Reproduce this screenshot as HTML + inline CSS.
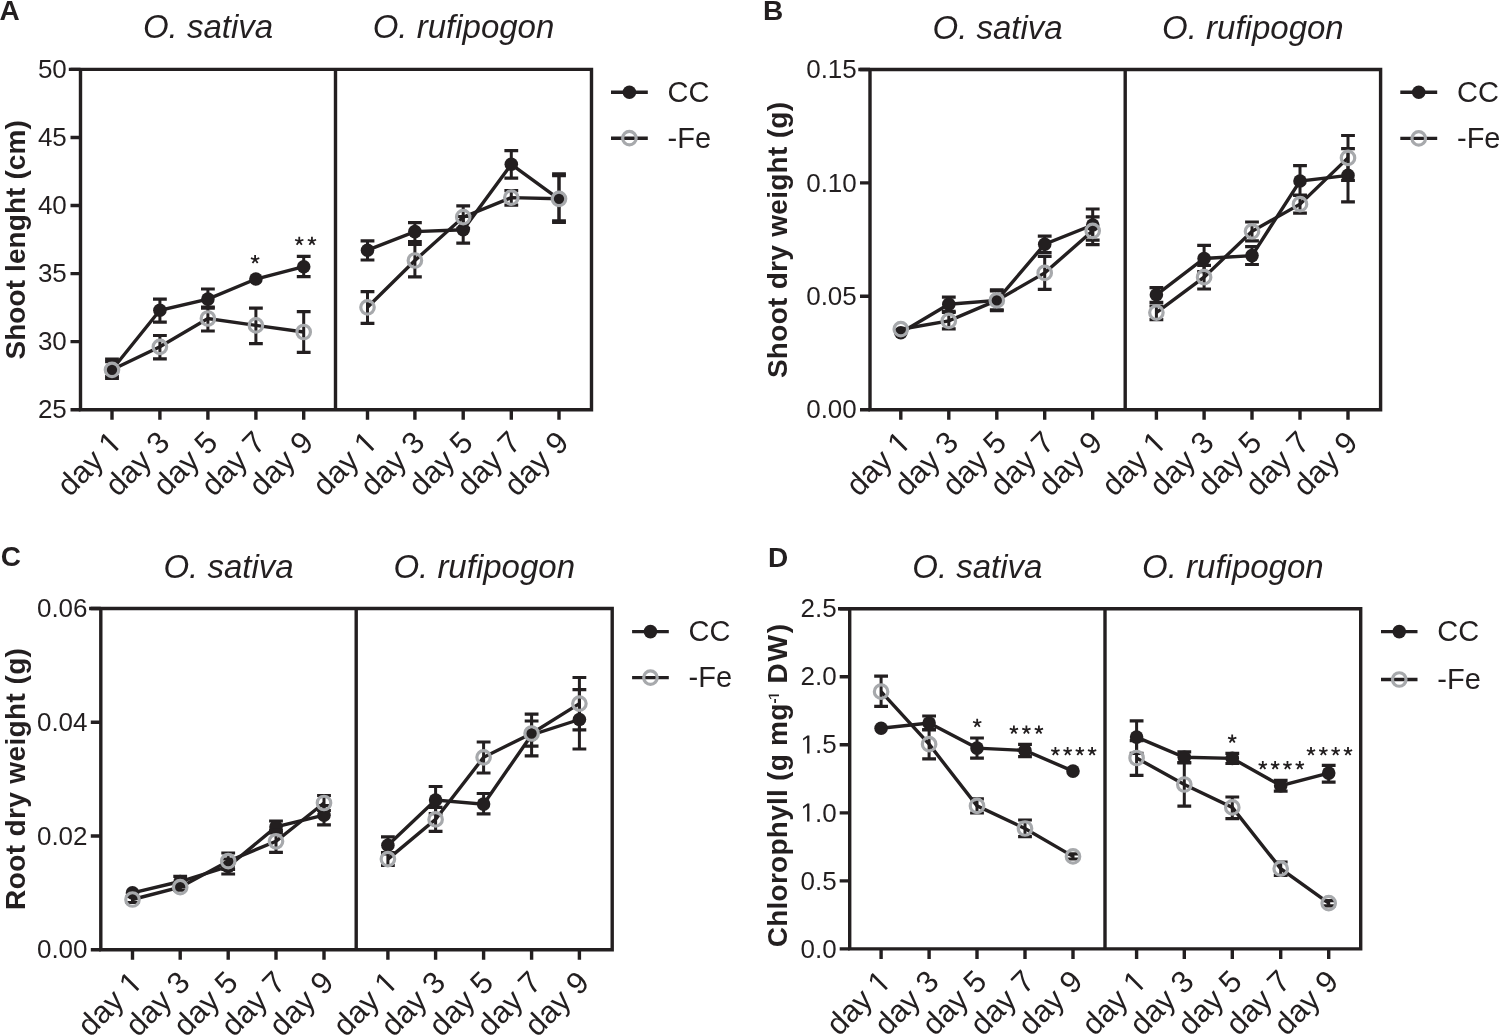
<!DOCTYPE html>
<html><head><meta charset="utf-8"><title>Figure</title>
<style>
html,body{margin:0;padding:0;background:#fff;}
body{width:1499px;height:1035px;position:relative;overflow:hidden;}
svg{will-change:transform;}
svg text{font-family:"Liberation Sans", sans-serif;fill:#231f20;}
</style></head><body>
<svg width="1499" height="1035" viewBox="0 0 1499 1035" style="position:absolute;left:0;top:0">
<rect width="1499" height="1035" fill="#fff"/>
<g id="pA"><path d="M70.5 69.4H591.5V409.7H80.5V69.4M335.5 69.4V409.7" fill="none" stroke="#231f20" stroke-width="3.4" stroke-linecap="square" stroke-linejoin="miter"/>
<path d="M70.5 69.4H80.5M70.5 137.5H80.5M70.5 205.5H80.5M70.5 273.6H80.5M70.5 341.6H80.5M70.5 409.7H80.5" stroke="#231f20" stroke-width="3.4"/>
<path d="M112 409.7V419.7M159.9 409.7V419.7M207.9 409.7V419.7M255.9 409.7V419.7M303.7 409.7V419.7M367.5 409.7V419.7M414.9 409.7V419.7M463.2 409.7V419.7M511.3 409.7V419.7M559 409.7V419.7" stroke="#231f20" stroke-width="3.4"/>
<text x="66.8" y="78" text-anchor="end" font-size="26">50</text>
<text x="66.8" y="146.1" text-anchor="end" font-size="26">45</text>
<text x="66.8" y="214.1" text-anchor="end" font-size="26">40</text>
<text x="66.8" y="282.2" text-anchor="end" font-size="26">35</text>
<text x="66.8" y="350.2" text-anchor="end" font-size="26">30</text>
<text x="66.8" y="418.3" text-anchor="end" font-size="26">25</text>
<g transform="rotate(-45 123.5 444.2)"><text x="97.65" y="444.2" text-anchor="end" font-size="31">day</text><path d="M515 0H696V1409H530L197 1180V1010L515 1237Z" fill="#231f20" transform="translate(106.26 444.20) scale(0.01514 -0.01514)"/></g>
<text x="171.4" y="444.2" text-anchor="end" font-size="31" transform="rotate(-45 171.4 444.2)">day 3</text>
<text x="219.4" y="444.2" text-anchor="end" font-size="31" transform="rotate(-45 219.4 444.2)">day 5</text>
<text x="267.4" y="444.2" text-anchor="end" font-size="31" transform="rotate(-45 267.4 444.2)">day 7</text>
<text x="315.2" y="444.2" text-anchor="end" font-size="31" transform="rotate(-45 315.2 444.2)">day 9</text>
<g transform="rotate(-45 379 444.2)"><text x="353.15" y="444.2" text-anchor="end" font-size="31">day</text><path d="M515 0H696V1409H530L197 1180V1010L515 1237Z" fill="#231f20" transform="translate(361.76 444.20) scale(0.01514 -0.01514)"/></g>
<text x="426.4" y="444.2" text-anchor="end" font-size="31" transform="rotate(-45 426.4 444.2)">day 3</text>
<text x="474.7" y="444.2" text-anchor="end" font-size="31" transform="rotate(-45 474.7 444.2)">day 5</text>
<text x="522.8" y="444.2" text-anchor="end" font-size="31" transform="rotate(-45 522.8 444.2)">day 7</text>
<text x="570.5" y="444.2" text-anchor="end" font-size="31" transform="rotate(-45 570.5 444.2)">day 9</text>
<text x="208" y="38.4" text-anchor="middle" font-size="33" font-style="italic">O. sativa</text>
<text x="463.5" y="38.4" text-anchor="middle" font-size="33" font-style="italic">O. rufipogon</text>
<text x="-0.6" y="20.2" font-size="28" font-weight="bold">A</text>
<text x="24.7" y="239.9" text-anchor="middle" font-size="28" font-weight="bold" textLength="239.4" lengthAdjust="spacing" transform="rotate(-90 24.7 239.9)">Shoot lenght (cm)</text>
<path d="M611 92.2H647.8M611 138.2H647.8" stroke="#231f20" stroke-width="3.4"/>
<circle cx="629.4" cy="92.2" r="6.8" fill="#231f20"/>
<circle cx="629.4" cy="138.2" r="6.75" fill="none" stroke="#a7a9ac" stroke-width="3.2"/>
<text x="667.6" y="101.8" font-size="29">CC</text>
<text x="667.6" y="147.8" font-size="29">-Fe</text>
<polyline points="112,369.8 159.9,310.3 207.9,299.1 255.9,279 303.7,266.7" fill="none" stroke="#231f20" stroke-width="3.4" stroke-linejoin="miter"/>
<polyline points="367.5,250.2 414.9,231.6 463.2,229.8 511.3,164.3 559,199.1" fill="none" stroke="#231f20" stroke-width="3.4" stroke-linejoin="miter"/>
<path d="M112 359V378.4M159.9 299.1V322.2M207.9 289V308.2M303.7 256.4V276.7M367.5 240.8V260M414.9 222.6V241.5M463.2 216.5V243.1M511.3 150.7V178.2M559 175.7V220.8" stroke="#231f20" stroke-width="3.0"/>
<path d="M105.1 359H118.9M105.1 378.4H118.9M153 299.1H166.8M153 322.2H166.8M201 289H214.8M201 308.2H214.8M296.8 256.4H310.6M296.8 276.7H310.6M360.6 240.8H374.4M360.6 260H374.4M408 222.6H421.8M408 241.5H421.8M456.3 216.5H470.1M456.3 243.1H470.1M504.4 150.7H518.2M504.4 178.2H518.2M552.1 175.7H565.9M552.1 220.8H565.9" stroke="#231f20" stroke-width="3.2"/>
<circle cx="112" cy="369.8" r="6.8" fill="#231f20"/>
<circle cx="159.9" cy="310.3" r="6.8" fill="#231f20"/>
<circle cx="207.9" cy="299.1" r="6.8" fill="#231f20"/>
<circle cx="255.9" cy="279" r="6.8" fill="#231f20"/>
<circle cx="303.7" cy="266.7" r="6.8" fill="#231f20"/>
<circle cx="367.5" cy="250.2" r="6.8" fill="#231f20"/>
<circle cx="414.9" cy="231.6" r="6.8" fill="#231f20"/>
<circle cx="463.2" cy="229.8" r="6.8" fill="#231f20"/>
<circle cx="511.3" cy="164.3" r="6.8" fill="#231f20"/>
<circle cx="559" cy="199.1" r="6.8" fill="#231f20"/>
<polyline points="112,369.8 159.9,346.8 207.9,318.5 255.9,325.4 303.7,332" fill="none" stroke="#231f20" stroke-width="3.4" stroke-linejoin="miter"/>
<polyline points="367.5,307.3 414.9,260.5 463.2,217.1 511.3,197.6 559,198.8" fill="none" stroke="#231f20" stroke-width="3.4" stroke-linejoin="miter"/>
<path d="M112 361.6V376.6M159.9 335.5V358.9M207.9 307V331M255.9 308.1V343.6M303.7 311.6V352.4M367.5 291.6V323.4M414.9 244.5V276.9M463.2 205.8V228.4M511.3 190.6V205.1M559 173.8V222.3" stroke="#231f20" stroke-width="3.0"/>
<path d="M105.1 361.6H118.9M105.1 376.6H118.9M153 335.5H166.8M153 358.9H166.8M201 307H214.8M201 331H214.8M249 308.1H262.8M249 343.6H262.8M296.8 311.6H310.6M296.8 352.4H310.6M360.6 291.6H374.4M360.6 323.4H374.4M408 244.5H421.8M408 276.9H421.8M456.3 205.8H470.1M456.3 228.4H470.1M504.4 190.6H518.2M504.4 205.1H518.2M552.1 173.8H565.9M552.1 222.3H565.9" stroke="#231f20" stroke-width="3.2"/>
<circle cx="112" cy="369.8" r="6.75" fill="none" stroke="#a7a9ac" stroke-width="3.2"/>
<circle cx="159.9" cy="346.8" r="6.75" fill="none" stroke="#a7a9ac" stroke-width="3.2"/>
<circle cx="207.9" cy="318.5" r="6.75" fill="none" stroke="#a7a9ac" stroke-width="3.2"/>
<circle cx="255.9" cy="325.4" r="6.75" fill="none" stroke="#a7a9ac" stroke-width="3.2"/>
<circle cx="303.7" cy="332" r="6.75" fill="none" stroke="#a7a9ac" stroke-width="3.2"/>
<circle cx="367.5" cy="307.3" r="6.75" fill="none" stroke="#a7a9ac" stroke-width="3.2"/>
<circle cx="414.9" cy="260.5" r="6.75" fill="none" stroke="#a7a9ac" stroke-width="3.2"/>
<circle cx="463.2" cy="217.1" r="6.75" fill="none" stroke="#a7a9ac" stroke-width="3.2"/>
<circle cx="511.3" cy="197.6" r="6.75" fill="none" stroke="#a7a9ac" stroke-width="3.2"/>
<circle cx="559" cy="198.8" r="6.75" fill="none" stroke="#a7a9ac" stroke-width="3.2"/></g>
<g id="pB"><path d="M860 69.5H1380.6V409.7H870V69.5M1125.2 69.5V409.7" fill="none" stroke="#231f20" stroke-width="3.4" stroke-linecap="square" stroke-linejoin="miter"/>
<path d="M860 69.5H870M860 182.9H870M860 296.3H870M860 409.7H870" stroke="#231f20" stroke-width="3.4"/>
<path d="M900.8 409.7V419.7M948.8 409.7V419.7M996.8 409.7V419.7M1044.7 409.7V419.7M1092.7 409.7V419.7M1156.4 409.7V419.7M1204.1 409.7V419.7M1252 409.7V419.7M1300 409.7V419.7M1348 409.7V419.7" stroke="#231f20" stroke-width="3.4"/>
<text x="856.8" y="78.1" text-anchor="end" font-size="26">0.15</text>
<text x="856.8" y="191.5" text-anchor="end" font-size="26">0.10</text>
<text x="856.8" y="304.9" text-anchor="end" font-size="26">0.05</text>
<text x="856.8" y="418.3" text-anchor="end" font-size="26">0.00</text>
<g transform="rotate(-45 912.3 444.2)"><text x="886.45" y="444.2" text-anchor="end" font-size="31">day</text><path d="M515 0H696V1409H530L197 1180V1010L515 1237Z" fill="#231f20" transform="translate(895.06 444.20) scale(0.01514 -0.01514)"/></g>
<text x="960.3" y="444.2" text-anchor="end" font-size="31" transform="rotate(-45 960.3 444.2)">day 3</text>
<text x="1008.3" y="444.2" text-anchor="end" font-size="31" transform="rotate(-45 1008.3 444.2)">day 5</text>
<text x="1056.2" y="444.2" text-anchor="end" font-size="31" transform="rotate(-45 1056.2 444.2)">day 7</text>
<text x="1104.2" y="444.2" text-anchor="end" font-size="31" transform="rotate(-45 1104.2 444.2)">day 9</text>
<g transform="rotate(-45 1167.9 444.2)"><text x="1142.05" y="444.2" text-anchor="end" font-size="31">day</text><path d="M515 0H696V1409H530L197 1180V1010L515 1237Z" fill="#231f20" transform="translate(1150.66 444.20) scale(0.01514 -0.01514)"/></g>
<text x="1215.6" y="444.2" text-anchor="end" font-size="31" transform="rotate(-45 1215.6 444.2)">day 3</text>
<text x="1263.5" y="444.2" text-anchor="end" font-size="31" transform="rotate(-45 1263.5 444.2)">day 5</text>
<text x="1311.5" y="444.2" text-anchor="end" font-size="31" transform="rotate(-45 1311.5 444.2)">day 7</text>
<text x="1359.5" y="444.2" text-anchor="end" font-size="31" transform="rotate(-45 1359.5 444.2)">day 9</text>
<text x="997.6" y="38.5" text-anchor="middle" font-size="33" font-style="italic">O. sativa</text>
<text x="1252.9" y="38.5" text-anchor="middle" font-size="33" font-style="italic">O. rufipogon</text>
<text x="763" y="20.3" font-size="28" font-weight="bold">B</text>
<text x="787" y="240.05" text-anchor="middle" font-size="28" font-weight="bold" textLength="276.1" lengthAdjust="spacing" transform="rotate(-90 787 240.05)">Shoot dry weight (g)</text>
<path d="M1400.3 92.3H1437.2M1400.3 138.4H1437.2" stroke="#231f20" stroke-width="3.4"/>
<circle cx="1418.75" cy="92.3" r="6.8" fill="#231f20"/>
<circle cx="1418.75" cy="138.4" r="6.75" fill="none" stroke="#a7a9ac" stroke-width="3.2"/>
<text x="1457" y="101.9" font-size="29">CC</text>
<text x="1457" y="148" font-size="29">-Fe</text>
<polyline points="900.8,332.7 948.8,304.2 996.8,300.4 1044.7,244.2 1092.7,225" fill="none" stroke="#231f20" stroke-width="3.4" stroke-linejoin="miter"/>
<polyline points="1156.4,294.8 1204.1,258.5 1252,255.6 1300,181 1348,175.4" fill="none" stroke="#231f20" stroke-width="3.4" stroke-linejoin="miter"/>
<path d="M948.8 297.1V311.3M996.8 289.8V310.7M1044.7 236.1V252.6M1092.7 209V240.1M1156.4 287.7V302.4M1204.1 245.4V271.6M1252 246.7V264.5M1300 165.6V195.5M1348 148.6V201.9" stroke="#231f20" stroke-width="3.0"/>
<path d="M941.9 297.1H955.7M941.9 311.3H955.7M989.9 289.8H1003.7M989.9 310.7H1003.7M1037.8 236.1H1051.6M1037.8 252.6H1051.6M1085.8 209H1099.6M1085.8 240.1H1099.6M1149.5 287.7H1163.3M1149.5 302.4H1163.3M1197.2 245.4H1211M1197.2 271.6H1211M1245.1 246.7H1258.9M1245.1 264.5H1258.9M1293.1 165.6H1306.9M1293.1 195.5H1306.9M1341.1 148.6H1354.9M1341.1 201.9H1354.9" stroke="#231f20" stroke-width="3.2"/>
<circle cx="900.8" cy="332.7" r="6.8" fill="#231f20"/>
<circle cx="948.8" cy="304.2" r="6.8" fill="#231f20"/>
<circle cx="996.8" cy="300.4" r="6.8" fill="#231f20"/>
<circle cx="1044.7" cy="244.2" r="6.8" fill="#231f20"/>
<circle cx="1092.7" cy="225" r="6.8" fill="#231f20"/>
<circle cx="1156.4" cy="294.8" r="6.8" fill="#231f20"/>
<circle cx="1204.1" cy="258.5" r="6.8" fill="#231f20"/>
<circle cx="1252" cy="255.6" r="6.8" fill="#231f20"/>
<circle cx="1300" cy="181" r="6.8" fill="#231f20"/>
<circle cx="1348" cy="175.4" r="6.8" fill="#231f20"/>
<polyline points="900.8,329.2 948.8,320.9 996.8,300.4 1044.7,272.9 1092.7,230.8" fill="none" stroke="#231f20" stroke-width="3.4" stroke-linejoin="miter"/>
<polyline points="1156.4,312.6 1204.1,277.2 1252,231.3 1300,204.2 1348,157.9" fill="none" stroke="#231f20" stroke-width="3.4" stroke-linejoin="miter"/>
<path d="M948.8 312.5V328.8M996.8 291V309.8M1044.7 256.4V289.3M1092.7 216.8V244.7M1156.4 306V319.6M1204.1 265.4V289M1252 222V240.8M1300 195V213.2M1348 135.5V180.3" stroke="#231f20" stroke-width="3.0"/>
<path d="M941.9 312.5H955.7M941.9 328.8H955.7M989.9 291H1003.7M989.9 309.8H1003.7M1037.8 256.4H1051.6M1037.8 289.3H1051.6M1085.8 216.8H1099.6M1085.8 244.7H1099.6M1149.5 306H1163.3M1149.5 319.6H1163.3M1197.2 265.4H1211M1197.2 289H1211M1245.1 222H1258.9M1245.1 240.8H1258.9M1293.1 195H1306.9M1293.1 213.2H1306.9M1341.1 135.5H1354.9M1341.1 180.3H1354.9" stroke="#231f20" stroke-width="3.2"/>
<circle cx="900.8" cy="329.2" r="6.75" fill="none" stroke="#a7a9ac" stroke-width="3.2"/>
<circle cx="948.8" cy="320.9" r="6.75" fill="none" stroke="#a7a9ac" stroke-width="3.2"/>
<circle cx="996.8" cy="300.4" r="6.75" fill="none" stroke="#a7a9ac" stroke-width="3.2"/>
<circle cx="1044.7" cy="272.9" r="6.75" fill="none" stroke="#a7a9ac" stroke-width="3.2"/>
<circle cx="1092.7" cy="230.8" r="6.75" fill="none" stroke="#a7a9ac" stroke-width="3.2"/>
<circle cx="1156.4" cy="312.6" r="6.75" fill="none" stroke="#a7a9ac" stroke-width="3.2"/>
<circle cx="1204.1" cy="277.2" r="6.75" fill="none" stroke="#a7a9ac" stroke-width="3.2"/>
<circle cx="1252" cy="231.3" r="6.75" fill="none" stroke="#a7a9ac" stroke-width="3.2"/>
<circle cx="1300" cy="204.2" r="6.75" fill="none" stroke="#a7a9ac" stroke-width="3.2"/>
<circle cx="1348" cy="157.9" r="6.75" fill="none" stroke="#a7a9ac" stroke-width="3.2"/></g>
<g id="pC"><path d="M90.8 608.5H612.2V949.8H100.8V608.5M356.2 608.5V949.8" fill="none" stroke="#231f20" stroke-width="3.4" stroke-linecap="square" stroke-linejoin="miter"/>
<path d="M90.8 608.5H100.8M90.8 722.3H100.8M90.8 836H100.8M90.8 949.8H100.8" stroke="#231f20" stroke-width="3.4"/>
<path d="M132.5 949.8V959.8M180.2 949.8V959.8M228.2 949.8V959.8M276 949.8V959.8M324 949.8V959.8M387.9 949.8V959.8M435.6 949.8V959.8M483.6 949.8V959.8M531.6 949.8V959.8M579.4 949.8V959.8" stroke="#231f20" stroke-width="3.4"/>
<text x="87.55" y="617.1" text-anchor="end" font-size="26">0.06</text>
<text x="87.55" y="730.9" text-anchor="end" font-size="26">0.04</text>
<text x="87.55" y="844.6" text-anchor="end" font-size="26">0.02</text>
<text x="87.55" y="958.4" text-anchor="end" font-size="26">0.00</text>
<g transform="rotate(-45 144 984.3)"><text x="118.15" y="984.3" text-anchor="end" font-size="31">day</text><path d="M515 0H696V1409H530L197 1180V1010L515 1237Z" fill="#231f20" transform="translate(126.76 984.30) scale(0.01514 -0.01514)"/></g>
<text x="191.7" y="984.3" text-anchor="end" font-size="31" transform="rotate(-45 191.7 984.3)">day 3</text>
<text x="239.7" y="984.3" text-anchor="end" font-size="31" transform="rotate(-45 239.7 984.3)">day 5</text>
<text x="287.5" y="984.3" text-anchor="end" font-size="31" transform="rotate(-45 287.5 984.3)">day 7</text>
<text x="335.5" y="984.3" text-anchor="end" font-size="31" transform="rotate(-45 335.5 984.3)">day 9</text>
<g transform="rotate(-45 399.4 984.3)"><text x="373.55" y="984.3" text-anchor="end" font-size="31">day</text><path d="M515 0H696V1409H530L197 1180V1010L515 1237Z" fill="#231f20" transform="translate(382.16 984.30) scale(0.01514 -0.01514)"/></g>
<text x="447.1" y="984.3" text-anchor="end" font-size="31" transform="rotate(-45 447.1 984.3)">day 3</text>
<text x="495.1" y="984.3" text-anchor="end" font-size="31" transform="rotate(-45 495.1 984.3)">day 5</text>
<text x="543.1" y="984.3" text-anchor="end" font-size="31" transform="rotate(-45 543.1 984.3)">day 7</text>
<text x="590.9" y="984.3" text-anchor="end" font-size="31" transform="rotate(-45 590.9 984.3)">day 9</text>
<text x="228.5" y="577.5" text-anchor="middle" font-size="33" font-style="italic">O. sativa</text>
<text x="484.2" y="577.5" text-anchor="middle" font-size="33" font-style="italic">O. rufipogon</text>
<text x="0.7" y="565.8" font-size="28" font-weight="bold">C</text>
<text x="24.8" y="779" text-anchor="middle" font-size="28" font-weight="bold" textLength="261.9" lengthAdjust="spacing" transform="rotate(-90 24.8 779)">Root dry weight (g)</text>
<path d="M632.1 631.6H668.8M632.1 677.6H668.8" stroke="#231f20" stroke-width="3.4"/>
<circle cx="650.45" cy="631.6" r="6.8" fill="#231f20"/>
<circle cx="650.45" cy="677.6" r="6.75" fill="none" stroke="#a7a9ac" stroke-width="3.2"/>
<text x="688.6" y="641.2" font-size="29">CC</text>
<text x="688.6" y="687.2" font-size="29">-Fe</text>
<polyline points="132.5,892.9 180.2,881.5 228.2,866.5 276,826.9 324,815.2" fill="none" stroke="#231f20" stroke-width="3.4" stroke-linejoin="miter"/>
<polyline points="387.9,845.3 435.6,800.1 483.6,804.1 531.6,735 579.4,719.5" fill="none" stroke="#231f20" stroke-width="3.4" stroke-linejoin="miter"/>
<path d="M180.2 876.3V886.7M228.2 859V874M276 821V832.8M324 805.6V824.8M387.9 836.8V853.8M435.6 786.5V813.7M483.6 793.5V813.9M531.6 714.2V755.8M579.4 689.6V749" stroke="#231f20" stroke-width="3.0"/>
<path d="M173.3 876.3H187.1M173.3 886.7H187.1M221.3 859H235.1M221.3 874H235.1M269.1 821H282.9M269.1 832.8H282.9M317.1 805.6H330.9M317.1 824.8H330.9M381 836.8H394.8M381 853.8H394.8M428.7 786.5H442.5M428.7 813.7H442.5M476.7 793.5H490.5M476.7 813.9H490.5M524.7 714.2H538.5M524.7 755.8H538.5M572.5 689.6H586.3M572.5 749H586.3" stroke="#231f20" stroke-width="3.2"/>
<circle cx="132.5" cy="892.9" r="6.8" fill="#231f20"/>
<circle cx="180.2" cy="881.5" r="6.8" fill="#231f20"/>
<circle cx="228.2" cy="866.5" r="6.8" fill="#231f20"/>
<circle cx="276" cy="826.9" r="6.8" fill="#231f20"/>
<circle cx="324" cy="815.2" r="6.8" fill="#231f20"/>
<circle cx="387.9" cy="845.3" r="6.8" fill="#231f20"/>
<circle cx="435.6" cy="800.1" r="6.8" fill="#231f20"/>
<circle cx="483.6" cy="804.1" r="6.8" fill="#231f20"/>
<circle cx="531.6" cy="735" r="6.8" fill="#231f20"/>
<circle cx="579.4" cy="719.5" r="6.8" fill="#231f20"/>
<polyline points="132.5,899.5 180.2,887.2 228.2,861.2 276,841.3 324,803" fill="none" stroke="#231f20" stroke-width="3.4" stroke-linejoin="miter"/>
<polyline points="387.9,859.1 435.6,819.4 483.6,757.3 531.6,733.5 579.4,703.6" fill="none" stroke="#231f20" stroke-width="3.4" stroke-linejoin="miter"/>
<path d="M132.5 896.5V902.5M180.2 884.2V890.2M228.2 853V869.4M276 830.3V852.3M324 795.5V810.5M387.9 852.7V865.5M435.6 807.4V831.4M483.6 742V773M531.6 721V746.1M579.4 677.5V729.8" stroke="#231f20" stroke-width="3.0"/>
<path d="M125.6 896.5H139.4M125.6 902.5H139.4M173.3 884.2H187.1M173.3 890.2H187.1M221.3 853H235.1M221.3 869.4H235.1M269.1 830.3H282.9M269.1 852.3H282.9M317.1 795.5H330.9M317.1 810.5H330.9M381 852.7H394.8M381 865.5H394.8M428.7 807.4H442.5M428.7 831.4H442.5M476.7 742H490.5M476.7 773H490.5M524.7 721H538.5M524.7 746.1H538.5M572.5 677.5H586.3M572.5 729.8H586.3" stroke="#231f20" stroke-width="3.2"/>
<circle cx="132.5" cy="899.5" r="6.75" fill="none" stroke="#a7a9ac" stroke-width="3.2"/>
<circle cx="180.2" cy="887.2" r="6.75" fill="none" stroke="#a7a9ac" stroke-width="3.2"/>
<circle cx="228.2" cy="861.2" r="6.75" fill="none" stroke="#a7a9ac" stroke-width="3.2"/>
<circle cx="276" cy="841.3" r="6.75" fill="none" stroke="#a7a9ac" stroke-width="3.2"/>
<circle cx="324" cy="803" r="6.75" fill="none" stroke="#a7a9ac" stroke-width="3.2"/>
<circle cx="387.9" cy="859.1" r="6.75" fill="none" stroke="#a7a9ac" stroke-width="3.2"/>
<circle cx="435.6" cy="819.4" r="6.75" fill="none" stroke="#a7a9ac" stroke-width="3.2"/>
<circle cx="483.6" cy="757.3" r="6.75" fill="none" stroke="#a7a9ac" stroke-width="3.2"/>
<circle cx="531.6" cy="733.5" r="6.75" fill="none" stroke="#a7a9ac" stroke-width="3.2"/>
<circle cx="579.4" cy="703.6" r="6.75" fill="none" stroke="#a7a9ac" stroke-width="3.2"/></g>
<g id="pD"><path d="M839.7 608.8H1360.7V948.9H849.7V608.8M1105 608.8V948.9" fill="none" stroke="#231f20" stroke-width="3.4" stroke-linecap="square" stroke-linejoin="miter"/>
<path d="M839.7 608.8H849.7M839.7 676.8H849.7M839.7 744.8H849.7M839.7 812.9H849.7M839.7 880.9H849.7M839.7 948.9H849.7" stroke="#231f20" stroke-width="3.4"/>
<path d="M881.1 948.9V958.9M929.1 948.9V958.9M977 948.9V958.9M1025 948.9V958.9M1073 948.9V958.9M1136.6 948.9V958.9M1184.3 948.9V958.9M1232.3 948.9V958.9M1280.7 948.9V958.9M1328.7 948.9V958.9" stroke="#231f20" stroke-width="3.4"/>
<text x="836.7" y="617.4" text-anchor="end" font-size="26">2.5</text>
<text x="836.7" y="685.4" text-anchor="end" font-size="26">2.0</text>
<text x="836.7" y="753.4" text-anchor="end" font-size="26">.5</text>
<path d="M515 0H696V1409H530L197 1180V1010L515 1237Z" fill="#231f20" transform="translate(800.56 753.40) scale(0.01270 -0.01270)"/>
<text x="836.7" y="821.5" text-anchor="end" font-size="26">.0</text>
<path d="M515 0H696V1409H530L197 1180V1010L515 1237Z" fill="#231f20" transform="translate(800.56 821.50) scale(0.01270 -0.01270)"/>
<text x="836.7" y="889.5" text-anchor="end" font-size="26">0.5</text>
<text x="836.7" y="957.5" text-anchor="end" font-size="26">0.0</text>
<g transform="rotate(-45 892.6 983.4)"><text x="866.75" y="983.4" text-anchor="end" font-size="31">day</text><path d="M515 0H696V1409H530L197 1180V1010L515 1237Z" fill="#231f20" transform="translate(875.36 983.40) scale(0.01514 -0.01514)"/></g>
<text x="940.6" y="983.4" text-anchor="end" font-size="31" transform="rotate(-45 940.6 983.4)">day 3</text>
<text x="988.5" y="983.4" text-anchor="end" font-size="31" transform="rotate(-45 988.5 983.4)">day 5</text>
<text x="1036.5" y="983.4" text-anchor="end" font-size="31" transform="rotate(-45 1036.5 983.4)">day 7</text>
<text x="1084.5" y="983.4" text-anchor="end" font-size="31" transform="rotate(-45 1084.5 983.4)">day 9</text>
<g transform="rotate(-45 1148.1 983.4)"><text x="1122.25" y="983.4" text-anchor="end" font-size="31">day</text><path d="M515 0H696V1409H530L197 1180V1010L515 1237Z" fill="#231f20" transform="translate(1130.86 983.40) scale(0.01514 -0.01514)"/></g>
<text x="1195.8" y="983.4" text-anchor="end" font-size="31" transform="rotate(-45 1195.8 983.4)">day 3</text>
<text x="1243.8" y="983.4" text-anchor="end" font-size="31" transform="rotate(-45 1243.8 983.4)">day 5</text>
<text x="1292.2" y="983.4" text-anchor="end" font-size="31" transform="rotate(-45 1292.2 983.4)">day 7</text>
<text x="1340.2" y="983.4" text-anchor="end" font-size="31" transform="rotate(-45 1340.2 983.4)">day 9</text>
<text x="977.35" y="577.8" text-anchor="middle" font-size="33" font-style="italic">O. sativa</text>
<text x="1232.85" y="577.8" text-anchor="middle" font-size="33" font-style="italic">O. rufipogon</text>
<text x="768" y="566.7" font-size="28" font-weight="bold">D</text>
<g transform="translate(787.3 0) rotate(-90)"><text x="-947.3" y="0" font-size="28" font-weight="bold" textLength="243.6" lengthAdjust="spacing">Chlorophyll (g mg</text><text x="-703.6" y="-8.3" font-size="15" font-weight="bold">-</text><path d="M515 0H696V1409H530L197 1180V1010L515 1237Z" fill="#231f20" transform="translate(-700.9 -8.3) scale(0.00916 -0.00732)"/><text x="-683.5" y="0" font-size="28" font-weight="bold" textLength="59.5" lengthAdjust="spacing">DW)</text></g>
<path d="M1381 631.6H1417.5M1381 679.5H1417.5" stroke="#231f20" stroke-width="3.4"/>
<circle cx="1399.25" cy="631.6" r="6.8" fill="#231f20"/>
<circle cx="1399.25" cy="679.5" r="6.75" fill="none" stroke="#a7a9ac" stroke-width="3.2"/>
<text x="1437.3" y="641.2" font-size="29">CC</text>
<text x="1437.3" y="689.1" font-size="29">-Fe</text>
<polyline points="881.1,728.3 929.1,723 977,748.1 1025,750.5 1073,771.1" fill="none" stroke="#231f20" stroke-width="3.4" stroke-linejoin="miter"/>
<polyline points="1136.6,737.1 1184.3,757.2 1232.3,758.4 1280.7,785.7 1328.7,773.1" fill="none" stroke="#231f20" stroke-width="3.4" stroke-linejoin="miter"/>
<path d="M929.1 716V730M977 738V758.1M1025 744.3V756.7M1136.6 720.9V753.3M1184.3 751.8V762.5M1232.3 753.3V763.5M1280.7 780.3V791.1M1328.7 765.4V782.2" stroke="#231f20" stroke-width="3.0"/>
<path d="M922.2 716H936M922.2 730H936M970.1 738H983.9M970.1 758.1H983.9M1018.1 744.3H1031.9M1018.1 756.7H1031.9M1129.7 720.9H1143.5M1129.7 753.3H1143.5M1177.4 751.8H1191.2M1177.4 762.5H1191.2M1225.4 753.3H1239.2M1225.4 763.5H1239.2M1273.8 780.3H1287.6M1273.8 791.1H1287.6M1321.8 765.4H1335.6M1321.8 782.2H1335.6" stroke="#231f20" stroke-width="3.2"/>
<circle cx="881.1" cy="728.3" r="6.8" fill="#231f20"/>
<circle cx="929.1" cy="723" r="6.8" fill="#231f20"/>
<circle cx="977" cy="748.1" r="6.8" fill="#231f20"/>
<circle cx="1025" cy="750.5" r="6.8" fill="#231f20"/>
<circle cx="1073" cy="771.1" r="6.8" fill="#231f20"/>
<circle cx="1136.6" cy="737.1" r="6.8" fill="#231f20"/>
<circle cx="1184.3" cy="757.2" r="6.8" fill="#231f20"/>
<circle cx="1232.3" cy="758.4" r="6.8" fill="#231f20"/>
<circle cx="1280.7" cy="785.7" r="6.8" fill="#231f20"/>
<circle cx="1328.7" cy="773.1" r="6.8" fill="#231f20"/>
<polyline points="881.1,691.7 929.1,744.2 977,805.9 1025,828.5 1073,856.4" fill="none" stroke="#231f20" stroke-width="3.4" stroke-linejoin="miter"/>
<polyline points="1136.6,758 1184.3,784.5 1232.3,807.4 1280.7,868.65 1328.7,903.2" fill="none" stroke="#231f20" stroke-width="3.4" stroke-linejoin="miter"/>
<path d="M881.1 676.2V706.4M929.1 729.5V758.9M977 798.8V813M1025 820V836.7M1073 853.8V859M1136.6 740.6V775.4M1184.3 762.8V806.2M1232.3 797V818.7M1280.7 862V875.3M1328.7 900.6V905.9" stroke="#231f20" stroke-width="3.0"/>
<path d="M874.2 676.2H888M874.2 706.4H888M922.2 729.5H936M922.2 758.9H936M970.1 798.8H983.9M970.1 813H983.9M1018.1 820H1031.9M1018.1 836.7H1031.9M1066.1 853.8H1079.9M1066.1 859H1079.9M1129.7 740.6H1143.5M1129.7 775.4H1143.5M1177.4 762.8H1191.2M1177.4 806.2H1191.2M1225.4 797H1239.2M1225.4 818.7H1239.2M1273.8 862H1287.6M1273.8 875.3H1287.6M1321.8 900.6H1335.6M1321.8 905.9H1335.6" stroke="#231f20" stroke-width="3.2"/>
<circle cx="881.1" cy="691.7" r="6.75" fill="none" stroke="#a7a9ac" stroke-width="3.2"/>
<circle cx="929.1" cy="744.2" r="6.75" fill="none" stroke="#a7a9ac" stroke-width="3.2"/>
<circle cx="977" cy="805.9" r="6.75" fill="none" stroke="#a7a9ac" stroke-width="3.2"/>
<circle cx="1025" cy="828.5" r="6.75" fill="none" stroke="#a7a9ac" stroke-width="3.2"/>
<circle cx="1073" cy="856.4" r="6.75" fill="none" stroke="#a7a9ac" stroke-width="3.2"/>
<circle cx="1136.6" cy="758" r="6.75" fill="none" stroke="#a7a9ac" stroke-width="3.2"/>
<circle cx="1184.3" cy="784.5" r="6.75" fill="none" stroke="#a7a9ac" stroke-width="3.2"/>
<circle cx="1232.3" cy="807.4" r="6.75" fill="none" stroke="#a7a9ac" stroke-width="3.2"/>
<circle cx="1280.7" cy="868.65" r="6.75" fill="none" stroke="#a7a9ac" stroke-width="3.2"/>
<circle cx="1328.7" cy="903.2" r="6.75" fill="none" stroke="#a7a9ac" stroke-width="3.2"/></g>
<path d="M255.1 259.5L255.1 255.1M255.1 259.5L259.28 258.14M255.1 259.5L257.69 263.06M255.1 259.5L252.51 263.06M255.1 259.5L250.92 258.14M299.25 241.1L299.25 236.7M299.25 241.1L303.43 239.74M299.25 241.1L301.84 244.66M299.25 241.1L296.66 244.66M299.25 241.1L295.07 239.74M311.95 241.1L311.95 236.7M311.95 241.1L316.13 239.74M311.95 241.1L314.54 244.66M311.95 241.1L309.36 244.66M311.95 241.1L307.77 239.74M977.2 723.1L977.2 718.7M977.2 723.1L981.38 721.74M977.2 723.1L979.79 726.66M977.2 723.1L974.61 726.66M977.2 723.1L973.02 721.74M1013.9 729.9L1013.9 725.5M1013.9 729.9L1018.08 728.54M1013.9 729.9L1016.49 733.46M1013.9 729.9L1011.31 733.46M1013.9 729.9L1009.72 728.54M1026.4 729.9L1026.4 725.5M1026.4 729.9L1030.58 728.54M1026.4 729.9L1028.99 733.46M1026.4 729.9L1023.81 733.46M1026.4 729.9L1022.22 728.54M1038.9 729.9L1038.9 725.5M1038.9 729.9L1043.08 728.54M1038.9 729.9L1041.49 733.46M1038.9 729.9L1036.31 733.46M1038.9 729.9L1034.72 728.54M1055.4 751.4L1055.4 747M1055.4 751.4L1059.58 750.04M1055.4 751.4L1057.99 754.96M1055.4 751.4L1052.81 754.96M1055.4 751.4L1051.22 750.04M1067.63 751.4L1067.63 747M1067.63 751.4L1071.82 750.04M1067.63 751.4L1070.22 754.96M1067.63 751.4L1065.05 754.96M1067.63 751.4L1063.45 750.04M1079.87 751.4L1079.87 747M1079.87 751.4L1084.05 750.04M1079.87 751.4L1082.45 754.96M1079.87 751.4L1077.28 754.96M1079.87 751.4L1075.68 750.04M1092.1 751.4L1092.1 747M1092.1 751.4L1096.28 750.04M1092.1 751.4L1094.69 754.96M1092.1 751.4L1089.51 754.96M1092.1 751.4L1087.92 750.04M1232.2 738.9L1232.2 734.5M1232.2 738.9L1236.38 737.54M1232.2 738.9L1234.79 742.46M1232.2 738.9L1229.61 742.46M1232.2 738.9L1228.02 737.54M1262.8 765.4L1262.8 761M1262.8 765.4L1266.98 764.04M1262.8 765.4L1265.39 768.96M1262.8 765.4L1260.21 768.96M1262.8 765.4L1258.62 764.04M1275.13 765.4L1275.13 761M1275.13 765.4L1279.32 764.04M1275.13 765.4L1277.72 768.96M1275.13 765.4L1272.55 768.96M1275.13 765.4L1270.95 764.04M1287.47 765.4L1287.47 761M1287.47 765.4L1291.65 764.04M1287.47 765.4L1290.05 768.96M1287.47 765.4L1284.88 768.96M1287.47 765.4L1283.28 764.04M1299.8 765.4L1299.8 761M1299.8 765.4L1303.98 764.04M1299.8 765.4L1302.39 768.96M1299.8 765.4L1297.21 768.96M1299.8 765.4L1295.62 764.04M1311 751.5L1311 747.1M1311 751.5L1315.18 750.14M1311 751.5L1313.59 755.06M1311 751.5L1308.41 755.06M1311 751.5L1306.82 750.14M1323.33 751.5L1323.33 747.1M1323.33 751.5L1327.52 750.14M1323.33 751.5L1325.92 755.06M1323.33 751.5L1320.75 755.06M1323.33 751.5L1319.15 750.14M1335.67 751.5L1335.67 747.1M1335.67 751.5L1339.85 750.14M1335.67 751.5L1338.25 755.06M1335.67 751.5L1333.08 755.06M1335.67 751.5L1331.48 750.14M1348 751.5L1348 747.1M1348 751.5L1352.18 750.14M1348 751.5L1350.59 755.06M1348 751.5L1345.41 755.06M1348 751.5L1343.82 750.14" stroke="#231f20" stroke-width="1.8" fill="none"/>
</svg>
</body></html>
